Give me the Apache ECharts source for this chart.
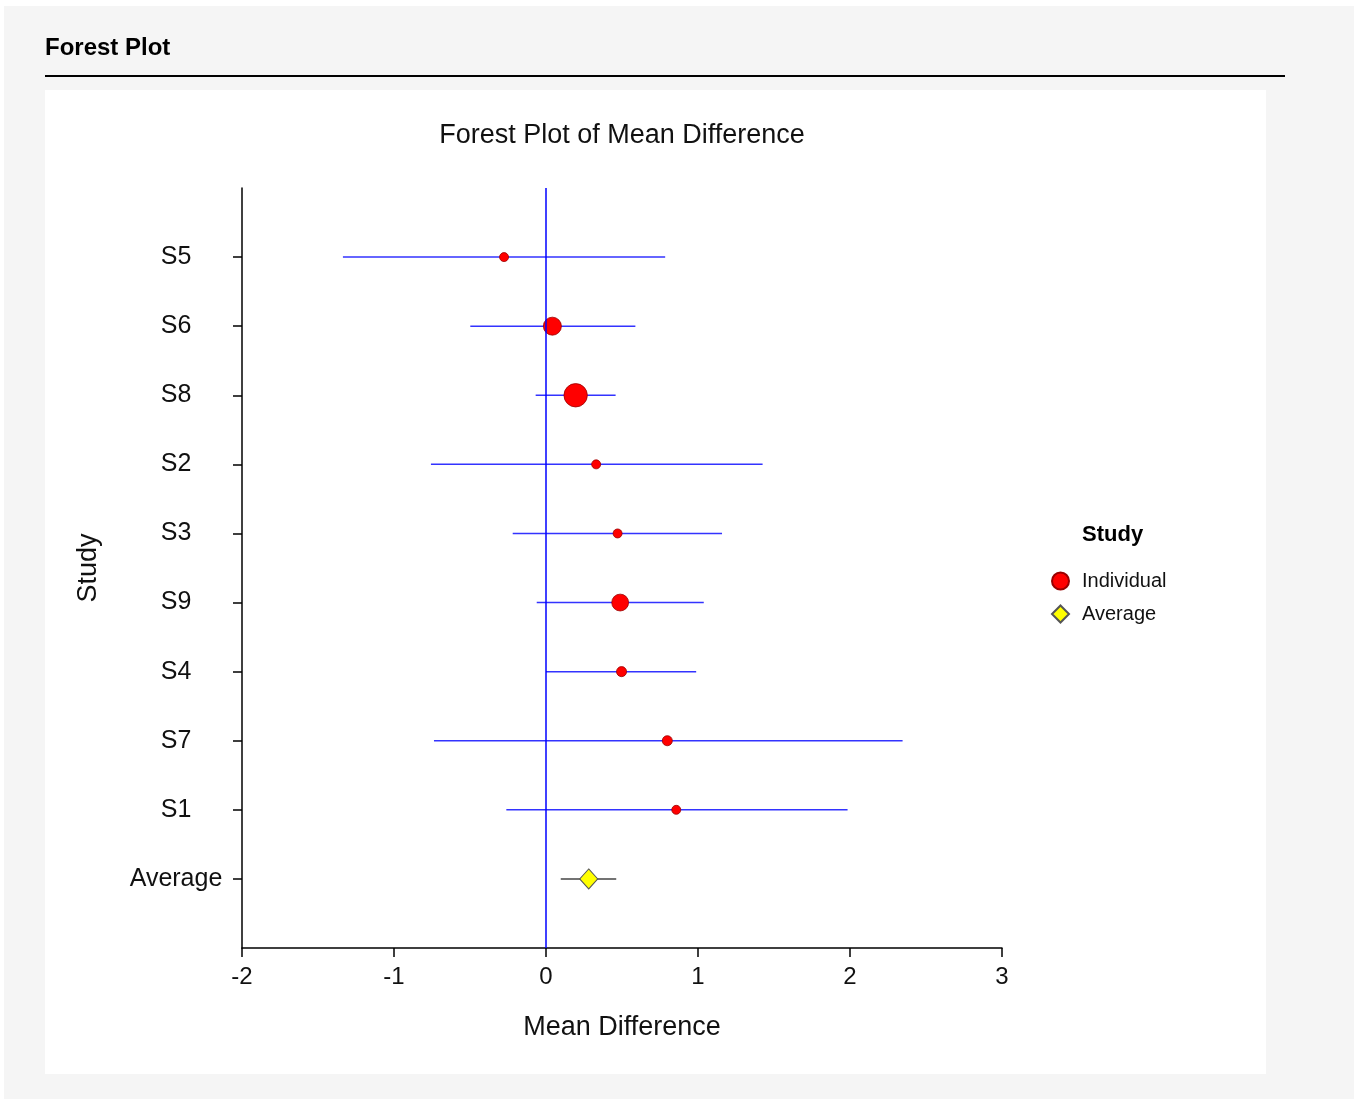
<!DOCTYPE html>
<html>
<head>
<meta charset="utf-8">
<script src="https://cdn.jsdelivr.net/npm/echarts@6/dist/echarts.min.js"></script>
<style>
html,body{margin:0;padding:0;background:#ffffff;}
#chart{width:1354px;height:1099px;}
</style>
</head>
<body>
<div id="chart"></div>
<script>
// ---- data ----
const studies = ['S5','S6','S8','S2','S3','S9','S4','S7','S1'];
const meanDiff = [-0.276, 0.042, 0.195, 0.330, 0.471, 0.488, 0.497, 0.798, 0.857];
const lowerCI  = [-1.336, -0.498, -0.068, -0.757, -0.219, -0.061, 0.000, -0.737, -0.261];
const upperCI  = [0.784, 0.588, 0.458, 1.425, 1.158, 1.038, 0.988, 2.346, 1.984];
const weightPct = [4, 16, 27, 4, 4, 14, 5, 5, 4];
const avgLabel = 'Average';
const avgMean = 0.281;
const avgLower = 0.097;
const avgUpper = 0.462;
const xTicks = [-2, -1, 0, 1, 2, 3];

const rowNames = studies.concat([avgLabel]);
const FONT = 'Liberation Sans, Arial, sans-serif';

const indivPoints = studies.map((s, i) => ({value: [meanDiff[i], i + 1], w: weightPct[i]}));
const indivCI = studies.map((s, i) => [lowerCI[i], upperCI[i], i + 1]);
const avgRow = rowNames.length;

function ciRender(color) {
  return function (params, api) {
    const y = api.value(2);
    const p1 = api.coord([api.value(0), y]);
    const p2 = api.coord([api.value(1), y]);
    return {
      type: 'line',
      shape: {x1: p1[0], y1: p1[1], x2: p2[0], y2: p2[1]},
      style: {stroke: color, lineWidth: 1.5}
    };
  };
}

const chart = echarts.init(document.getElementById('chart'), null, {renderer: 'canvas'});
chart.setOption({
  backgroundColor: '#ffffff',
  animation: false,
  graphic: [
    {type: 'rect', z: -10, shape: {x: 4, y: 6, width: 1350, height: 1093}, style: {fill: '#f5f5f5'}},
    {type: 'rect', z: -9, shape: {x: 45, y: 90, width: 1221, height: 984}, style: {fill: '#ffffff'}},
    {type: 'text', left: 45, top: 36, style: {text: 'Forest Plot', font: 'bold 24px ' + FONT, fill: '#000'}},
    {type: 'line', shape: {x1: 45, y1: 76, x2: 1285, y2: 76}, style: {stroke: '#000', lineWidth: 2}}
  ],
  title: [
    {text: 'Forest Plot of Mean Difference', left: 617, textAlign: 'center', top: 117,
     textStyle: {fontFamily: FONT, fontSize: 27, fontWeight: 'normal', color: '#111'}},
    {text: 'Study', left: 1077, top: 519,
     textStyle: {fontFamily: FONT, fontSize: 22, fontWeight: 'bold', color: '#000'}}
  ],
  legend: {
    orient: 'vertical', left: 1051, top: 571, padding: 0,
    itemWidth: 17, itemHeight: 17, itemGap: 13, itemTextGap: 14,
    textStyle: {fontFamily: FONT, fontSize: 20, color: '#111', padding: [0, 0, 0, 8]},
    data: ['Individual', 'Average']
  },
  grid: {left: 242, right: 352, top: 188, bottom: 151, containLabel: false},
  xAxis: {
    type: 'value', min: -2, max: 3, interval: 1,
    name: 'Mean Difference', nameLocation: 'middle', nameGap: 66,
    nameTextStyle: {fontFamily: FONT, fontSize: 27, color: '#111'},
    axisLine: {show: true, onZero: false, lineStyle: {color: '#000', width: 1.5}},
    axisTick: {show: true, length: 9, lineStyle: {color: '#000', width: 1.5}},
    axisLabel: {fontFamily: FONT, fontSize: 24, color: '#111', margin: 17,
      customValues: xTicks},
    splitLine: {show: false}
  },
  yAxis: {
    type: 'value', min: 0, max: rowNames.length + 1, interval: 1, inverse: true,
    name: 'Study', nameLocation: 'middle', nameGap: 140, nameRotate: 90,
    nameTextStyle: {fontFamily: FONT, fontSize: 27, color: '#111'},
    axisLine: {show: true, onZero: false, lineStyle: {color: '#000', width: 1.5}},
    axisTick: {show: true, length: 9, lineStyle: {color: '#000', width: 1.5},
      customValues: rowNames.map((n, i) => i + 1)},
    axisLabel: {fontFamily: FONT, fontSize: 25, color: '#111', margin: 66, align: 'center',
      customValues: rowNames.map((n, i) => i + 1),
      formatter: v => rowNames[Math.round(v) - 1] || ''},
    splitLine: {show: false}
  },
  series: [
    {
      name: 'ref', type: 'line', data: [], silent: true,
      markLine: {
        silent: true, symbol: 'none', label: {show: false},
        lineStyle: {color: '#0000ff', width: 1.5, type: 'solid'},
        data: [{xAxis: 0}]
      }
    },
    {type: 'custom', name: 'ciIndiv', renderItem: ciRender('#3333ff'), data: indivCI, z: 2,
      encode: {x: [0, 1], y: 2}},
    {type: 'custom', name: 'ciAvg', renderItem: ciRender('#444444'), data: [[avgLower, avgUpper, avgRow]], z: 2,
      encode: {x: [0, 1], y: 2}},
    {
      name: 'Individual', type: 'scatter', z: 3, symbol: 'circle',
      symbolSize: (val, p) => 4.5 * Math.sqrt(p.data.w),
      itemStyle: {color: '#ff0000', borderColor: '#990000', borderWidth: 0.8, opacity: 1},
      data: indivPoints
    },
    {
      name: 'Average', type: 'scatter', z: 3, symbol: 'diamond', symbolSize: [18, 20],
      itemStyle: {color: '#ffff00', borderColor: '#555555', borderWidth: 1, opacity: 1},
      data: [[avgMean, avgRow]]
    }
  ]
});
</script>
</body>
</html>
